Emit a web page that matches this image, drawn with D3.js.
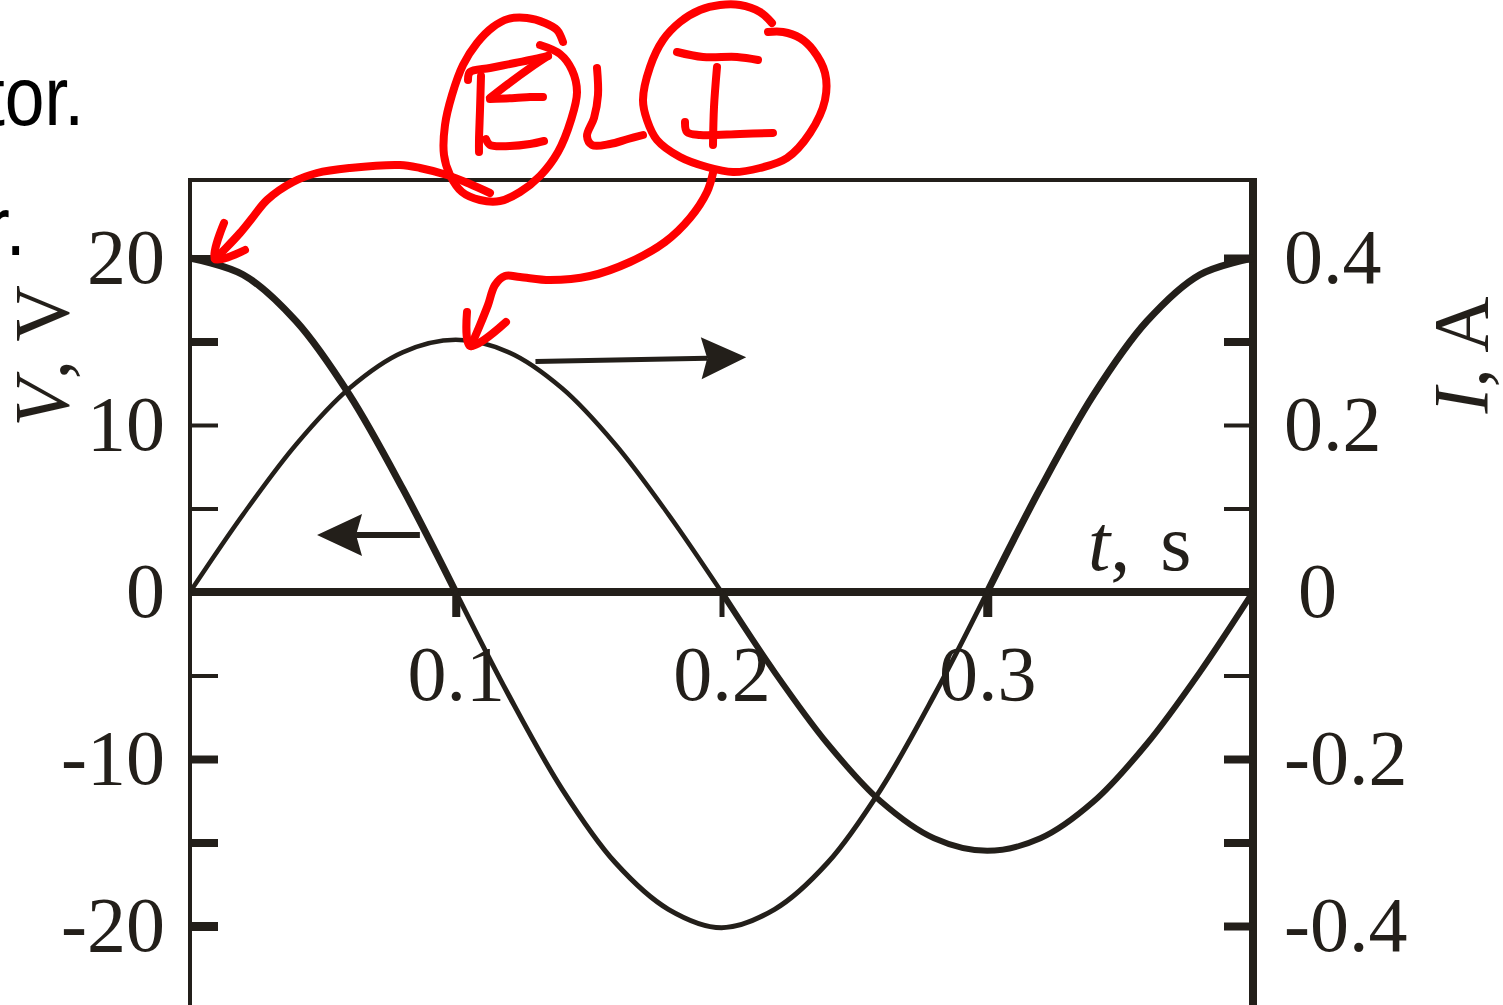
<!DOCTYPE html>
<html>
<head>
<meta charset="utf-8">
<script src="https://cdn.jsdelivr.net/npm/d3@7"></script>
<style>
  html, body { margin: 0; padding: 0; background: #fff; overflow: hidden; }
  svg { display: block; }
</style>
</head>
<body>
<svg id="chart" width="1503" height="1005"></svg>
<script>
// ---- data: voltage across an inductor and the current through it ----
const timeS = [0, 0.02, 0.04, 0.06, 0.08, 0.10, 0.12, 0.14, 0.16, 0.18, 0.20,
               0.22, 0.24, 0.26, 0.28, 0.30, 0.32, 0.34, 0.36, 0.38, 0.40];
const voltageV = [20, 19.0, 16.2, 11.8, 6.2, 0, -6.2, -11.8, -16.2, -19.0, -20.1,
                  -19.0, -16.2, -11.8, -6.2, 0, 6.2, 11.8, 16.2, 19.0, 20];
const currentA = [0, 0.093, 0.177, 0.244, 0.287, 0.302, 0.287, 0.244, 0.177, 0.093, 0,
                  -0.096, -0.182, -0.251, -0.295, -0.310, -0.295, -0.251, -0.182, -0.096, 0];

const vTicks = [20, 15, 10, 5, 0, -5, -10, -15, -20];
const vTickLabels = ["20", "", "10", "", "0", "", "-10", "", "-20"];
const iTicks = [0.4, 0.3, 0.2, 0.1, 0, -0.1, -0.2, -0.3, -0.4];
const iTickLabels = ["0.4", "", "0.2", "", "0", "", "-0.2", "", "-0.4"];
const tTicks = [0.1, 0.2, 0.3];
const tTickLabels = ["0.1", "0.2", "0.3"];

// ---- look ----
const INK = "#231f1a";
const RED = "#ff0000";
const SERIF = "'Liberation Serif', 'Times New Roman', serif";
const SANS = "'Liberation Sans', Arial, sans-serif";
const vTickWidth = { "20": 7, "15": 8, "10": 4, "5": 4, "0": 0, "-5": 4, "-10": 8, "-15": 8, "-20": 9 };
const iTickWidth = { "0.4": 8, "0.3": 8, "0.2": 4, "0.1": 4, "0": 0, "-0.1": 4, "-0.2": 8, "-0.3": 8, "-0.4": 8 };
const tTickWidth = { "0.1": 8, "0.2": 5, "0.3": 9 };
// stroke weight of each curve over spans of time
const vStroke = [{ from: 0, to: 0.1, w: 7 }, { from: 0.1, to: 0.3, w: 5 }, { from: 0.3, to: 0.4, w: 7 }];
const iStroke = [{ from: 0, to: 0.2, w: 4.5 }, { from: 0.2, to: 0.4, w: 6 }];

const svg = d3.select("#chart");
svg.append("rect").attr("width", 1503).attr("height", 1005).attr("fill", "#fff");

// plot frame edges
const plotLeft = 190, plotRight = 1253, plotTop = 180, plotBottom = 1005;

const x = d3.scaleLinear().domain([0, 0.4]).range([plotLeft, plotRight]);
const yV = d3.scaleLinear().domain([-24.7, 24.7]).range([plotBottom - 0.5, plotTop - 0.5]);
const yI = d3.scaleLinear().domain([-0.494, 0.494]).range([plotBottom - 0.5, plotTop - 0.5]);

// ---- frame ----
const frame = svg.append("g").attr("stroke", INK).attr("fill", "none");
frame.append("line").attr("x1", plotLeft).attr("x2", plotLeft).attr("y1", plotTop - 2).attr("y2", plotBottom + 2).attr("stroke-width", 4);
frame.append("line").attr("x1", plotLeft - 2).attr("x2", plotRight + 4).attr("y1", plotTop).attr("y2", plotTop).attr("stroke-width", 4);
frame.append("line").attr("x1", plotRight).attr("x2", plotRight).attr("y1", plotTop - 2).attr("y2", plotBottom + 2).attr("stroke-width", 8);

// ---- axes ----
function styleAxis(g, widths) {
  g.select(".domain").remove();
  g.selectAll(".tick line")
    .attr("stroke", INK)
    .attr("stroke-width", d => widths[String(d)] || 0);
  g.selectAll(".tick text")
    .attr("fill", INK)
    .style("font-family", SERIF)
    .style("font-size", "78px");
}

const vAxis = svg.append("g")
  .attr("transform", `translate(${plotLeft},0)`)
  .call(d3.axisLeft(yV).tickValues(vTicks).tickSize(-28).tickPadding(25)
    .tickFormat((d, i) => vTickLabels[i]));
styleAxis(vAxis, vTickWidth);

const iAxis = svg.append("g")
  .attr("transform", `translate(${plotRight},0)`)
  .call(d3.axisRight(yI).tickValues(iTicks).tickSize(-29).tickPadding(31)
    .tickFormat((d, i) => iTickLabels[i]));
styleAxis(iAxis, iTickWidth);
iAxis.selectAll(".tick text").filter(d => d === 0).attr("dx", 14);

// time axis through zero
svg.append("line")
  .attr("x1", plotLeft).attr("x2", plotRight)
  .attr("y1", yV(0)).attr("y2", yV(0))
  .attr("stroke", INK).attr("stroke-width", 8);

const tAxis = svg.append("g")
  .attr("transform", `translate(0,${yV(0)})`)
  .call(d3.axisBottom(x).tickValues(tTicks).tickSize(25).tickPadding(28)
    .tickFormat((d, i) => tTickLabels[i]));
styleAxis(tAxis, tTickWidth);

// ---- curves ----
const vPts = timeS.map((t, i) => ({ t, v: voltageV[i] }));
const iPts = timeS.map((t, i) => ({ t, v: currentA[i] }));

const vLine = d3.line().x(d => x(d.t)).y(d => yV(d.v)).curve(d3.curveCatmullRom.alpha(0.5));
const iLine = d3.line().x(d => x(d.t)).y(d => yI(d.v)).curve(d3.curveCatmullRom.alpha(0.5));

// each curve is drawn piecewise so its weight can change along time;
// inner joints get round caps, the two outer ends stay square-cut
function drawPieces(pts, line, pieces) {
  const eps = 1e-9;
  pieces.forEach((p, k) => {
    const part = pts.filter(d => d.t >= p.from - eps && d.t <= p.to + eps);
    const path = svg.append("path").attr("d", line(part))
      .attr("fill", "none").attr("stroke", INK).attr("stroke-width", p.w)
      .attr("stroke-linejoin", "round").attr("stroke-linecap", "butt");
    if (k > 0) {
      const j = part[0];
      svg.append("circle").attr("cx", x(j.t)).attr("cy", line === vLine ? yV(j.v) : yI(j.v))
        .attr("r", Math.min(p.w, pieces[k - 1].w) / 2).attr("fill", INK);
    }
  });
}
drawPieces(iPts, iLine, iStroke);
drawPieces(vPts, vLine, vStroke);

// ---- axis titles ----
const vTitle = svg.append("text")
  .attr("transform", "translate(68,356) rotate(-90)")
  .attr("text-anchor", "middle")
  .attr("fill", INK).style("font-family", SERIF).style("font-size", "78px");
vTitle.append("tspan").style("font-style", "italic").text("V");
vTitle.append("tspan").text(", V");

const iTitle = svg.append("text")
  .attr("transform", "translate(1487,355) rotate(-90)")
  .attr("text-anchor", "middle")
  .attr("fill", INK).style("font-family", SERIF).style("font-size", "78px");
iTitle.append("tspan").style("font-style", "italic").text("I");
iTitle.append("tspan").text(", A");

const tTitle = svg.append("text")
  .attr("x", 1088).attr("y", 570)
  .attr("fill", INK).style("font-family", SERIF).style("font-size", "80px");
tTitle.append("tspan").style("font-style", "italic").text("t");
tTitle.append("tspan").text(",");
tTitle.append("tspan").attr("dx", 30).text("s");

// ---- direction arrows: which curve belongs to which axis ----
function arrow(x0, y0, x1, y1, w) {
  const g = svg.append("g");
  const ang = Math.atan2(y1 - y0, x1 - x0);
  const L = 45, H = 21, notch = 6;
  const bx = x1 - L * Math.cos(ang), by = y1 - L * Math.sin(ang);
  g.append("line")
    .attr("x1", x0).attr("y1", y0)
    .attr("x2", x1 - (L - notch) * Math.cos(ang)).attr("y2", y1 - (L - notch) * Math.sin(ang))
    .attr("stroke", INK).attr("stroke-width", w);
  const nx = -Math.sin(ang), ny = Math.cos(ang);
  const pts = [
    [x1, y1],
    [bx + H * nx, by + H * ny],
    [bx + notch * Math.cos(ang), by + notch * Math.sin(ang)],
    [bx - H * nx, by - H * ny]
  ];
  g.append("path").attr("d", "M" + pts.map(p => p.join(",")).join("L") + "Z").attr("fill", INK);
}
arrow(x(0.0865), yV(3.42), x(0.0478), yV(3.42), 6);
arrow(x(0.130), yV(13.8), x(0.2093), yV(14.05), 5);

// ---- stray lines of surrounding slide text ----
svg.append("text").attr("transform", "translate(-15,125) scale(0.85,1)")
  .attr("fill", "#000").style("font-family", SANS).style("font-size", "84px").text("tor.");
svg.append("text").attr("transform", "translate(-14,255) scale(0.85,1)")
  .attr("fill", "#000").style("font-family", SANS).style("font-size", "84px").text("r.");

// ---- handwritten red ELI annotation ----
const ink = d3.line().curve(d3.curveCatmullRom.alpha(0.5));
const strokes = [
  // circle round E
  [[563,42],[557,30],[545,23],[527,18],[508,19],[493,27],[477,43],[463,65],[452,95],[445,125],[444,155],[450,175],[462,192],[480,200],[500,201],[520,192],[540,176],[558,152],[571,120],[577,92],[572,70],[560,54],[540,45]],
  // E
  [[468,80],[470,72],[490,68],[515,63],[535,59],[548,56]],
  [[548,56],[530,68],[508,84],[490,98]],
  [[490,99],[515,98],[530,97],[543,97]],
  [[481,76],[480,110],[479,140],[479,152]],
  [[486,139],[490,145],[510,146],[530,144],[544,141]],
  // L
  [[597,68],[598,95],[594,118],[587,136],[592,145],[610,144],[628,139],[643,135]],
  // circle round I
  [[772,23],[760,12],[740,5],[720,5],[700,10],[680,22],[663,40],[650,67],[643,100],[647,120],[657,140],[680,157],[707,167],[733,172],[760,168],[787,158],[810,133],[825,100],[825,73],[813,50],[800,38],[783,32],[768,32]],
  // I
  [[677,52],[703,57],[737,57],[758,60]],
  [[717,67],[714,107],[713,145]],
  [[685,122],[687,132],[700,135],[740,134],[773,133]],
  // arrow from E to the voltage curve
  [[490,193],[470,184],[447,175],[420,168],[400,165],[350,168],[317,173],[293,182],[267,200],[253,217],[240,233],[226,248],[215,259]],
  [[224,223],[215,259],[245,250]],
  // arrow from I to the current curve
  [[713,173],[707,192],[690,218],[665,242],[630,262],[590,276],[550,280],[520,277],[505,276],[495,285],[488,305],[480,325],[471,346]],
  [[467,312],[470,346],[506,322]]
];
svg.append("g").selectAll("path").data(strokes).join("path")
  .attr("d", d => ink(d))
  .attr("fill", "none").attr("stroke", RED).attr("stroke-width", 8)
  .attr("stroke-linecap", "round").attr("stroke-linejoin", "round");
</script>
</body>
</html>
